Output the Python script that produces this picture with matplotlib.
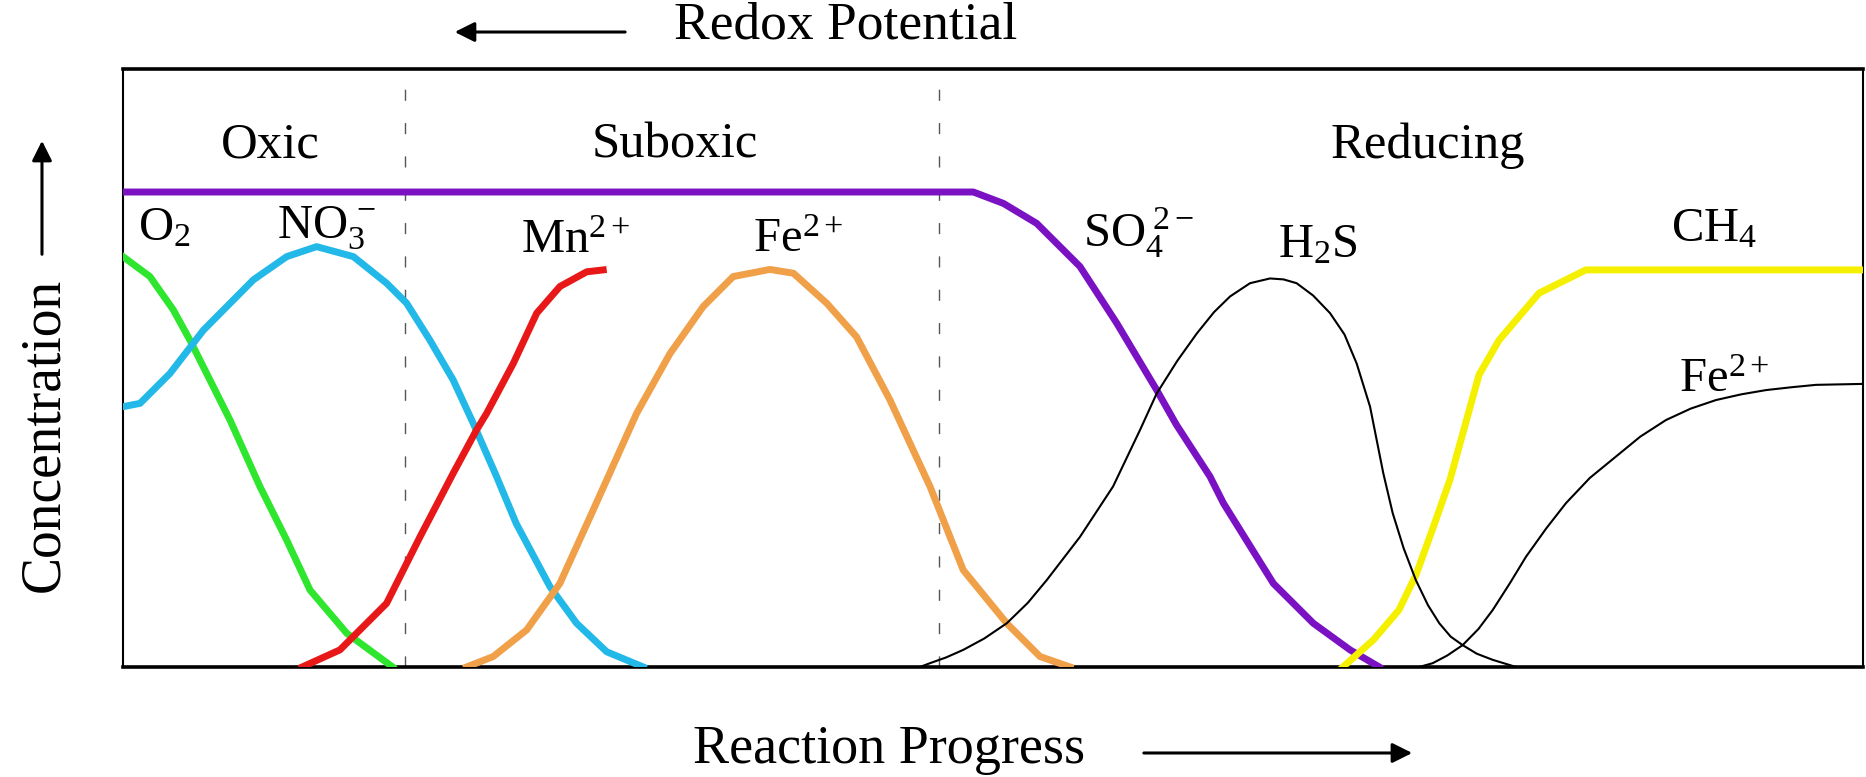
import matplotlib
matplotlib.use("Agg")
import matplotlib.pyplot as plt

plt.rcParams['font.family'] = ['Liberation Serif', 'DejaVu Serif']
plt.rcParams['mathtext.fontset'] = 'custom'
plt.rcParams['mathtext.rm'] = 'Liberation Serif'
plt.rcParams['mathtext.it'] = 'Liberation Serif:italic'
plt.rcParams['mathtext.bf'] = 'Liberation Serif:bold'

# ---- data (x: reaction progress 0-100, y: relative concentration) ----
o2_x = [0, 1.55, 2.89, 3.85, 5.0, 6.15, 7.87, 9.41, 10.75, 12.86, 15.5]
o2_y = [0.864, 0.822, 0.752, 0.688, 0.604, 0.520, 0.380, 0.267, 0.162, 0.071, 0.0]

no3_x = [0, 0.98, 2.70, 4.62, 7.49, 9.41, 11.13, 13.24, 15.15, 16.30, 17.64,
         18.98, 20.13, 21.47, 22.6, 24.54, 26.07, 27.8, 29.9]
no3_y = [0.548, 0.555, 0.618, 0.709, 0.815, 0.864, 0.885, 0.864, 0.808, 0.766, 0.688,
         0.604, 0.513, 0.401, 0.302, 0.169, 0.092, 0.032, 0.0]

mn_x = [10.3, 12.47, 15.15, 17.07, 18.98, 20.32, 20.9, 22.43, 23.78, 25.11, 26.65, 27.6]
mn_y = [0.0, 0.036, 0.134, 0.274, 0.408, 0.499, 0.534, 0.639, 0.745, 0.801, 0.832, 0.836]

fe_x = [19.75, 21.28, 23.2, 25.11, 27.03, 29.52, 31.44, 33.35, 35.07, 37.18, 38.53,
        40.44, 42.16, 44.08, 46.38, 48.29, 50.79, 52.7, 54.43]
fe_y = [0.0, 0.022, 0.078, 0.176, 0.331, 0.534, 0.660, 0.759, 0.822, 0.837, 0.829,
        0.766, 0.695, 0.562, 0.380, 0.204, 0.092, 0.022, 0.0]

so4_x = [0, 48.87, 50.6, 52.51, 55.0, 57.11, 59.41, 60.54, 62.47, 63.24, 66.11,
         68.41, 70.52, 72.2]
so4_y = [1.0, 1.0, 0.976, 0.934, 0.843, 0.724, 0.583, 0.51, 0.401, 0.345, 0.176,
         0.092, 0.036, 0.0]

h2s_x = [45.8, 46.38, 47.3, 48.29, 49.5, 50.79, 52.0, 53.09, 55.0, 56.9, 58.45, 59.41,
         60.6, 61.71, 62.7, 63.62, 64.77, 65.92, 66.7, 67.45, 68.4, 69.37, 70.2, 70.9,
         71.67, 72.43, 72.97, 73.6, 74.3, 75.0, 75.65, 76.3, 76.99, 77.8, 78.72, 80.06]
h2s_y = [0.0, 0.008, 0.02, 0.036, 0.06, 0.092, 0.135, 0.183, 0.274, 0.380, 0.499, 0.576,
         0.645, 0.702, 0.747, 0.780, 0.808, 0.818, 0.816, 0.808, 0.782, 0.745, 0.70, 0.639,
         0.548, 0.408, 0.324, 0.25, 0.183, 0.13, 0.092, 0.064, 0.046, 0.028, 0.015, 0.0]

ch4_x = [70.11, 71.86, 73.33, 74.31, 75.29, 76.26, 77.13, 77.93, 79.08, 81.38, 84.07, 100]
ch4_y = [0.0, 0.057, 0.120, 0.194, 0.293, 0.394, 0.509, 0.615, 0.688, 0.787, 0.836, 0.836]

fe2_x = [74.5, 75.27, 76.1, 76.99, 77.9, 78.72, 79.7, 80.63, 81.8, 82.93, 84.3, 85.8,
         87.2, 88.68, 90.1, 91.55, 93.0, 94.43, 95.9, 97.3, 100]
fe2_y = [0.0, 0.008, 0.024, 0.046, 0.080, 0.120, 0.176, 0.232, 0.292, 0.345, 0.398, 0.443,
         0.485, 0.520, 0.544, 0.562, 0.574, 0.583, 0.589, 0.594, 0.596]

zone_bounds = [16.2, 46.9]
zone_names = ['Oxic', 'Suboxic', 'Reducing']
zone_label_x = [8.45, 31.7, 75.0]

species_labels = [r'$\mathrm{O}_2$', r'$\mathrm{NO}_3^{\,-}$', r'$\mathrm{Mn}^{2+}$',
                  r'$\mathrm{Fe}^{2+}$', r'$\mathrm{SO}_4^{\;2-}$', r'$\mathrm{H}_2\mathrm{S}$',
                  r'$\mathrm{CH}_4$', r'$\mathrm{Fe}^{2+}$']
species_x = [0.86, 8.85, 22.9, 36.2, 55.2, 66.4, 88.97, 89.4]
species_y = [0.899, 0.903, 0.872, 0.874, 0.884, 0.863, 0.895, 0.579]

# ---- figure ----
fig = plt.figure(figsize=(18.66, 7.77), dpi=100)
ax = fig.add_axes([0.0659, 0.1416, 0.9325, 0.7696])
ax.set_xlim(0, 100)
ax.set_ylim(0, 1.259)
ax.set_xticks([])
ax.set_yticks([])
ax.spines['top'].set_linewidth(2.6)
ax.spines['bottom'].set_linewidth(2.6)
ax.spines['left'].set_linewidth(1.5)
ax.spines['right'].set_linewidth(1.5)

for xb in zone_bounds:
    ax.axvline(xb, color='#555555', lw=1.0, linestyle=(0, (8, 16)), zorder=1)

lw_c = 5.0
ax.plot(o2_x, o2_y, color='#2ee62e', lw=lw_c, solid_joinstyle='round', zorder=3)
ax.plot(no3_x, no3_y, color='#22b8e8', lw=lw_c, solid_joinstyle='round', zorder=3)
ax.plot(mn_x, mn_y, color='#e81818', lw=lw_c, solid_joinstyle='round', zorder=3)
ax.plot(fe_x, fe_y, color='#f0a048', lw=lw_c, solid_joinstyle='round', zorder=3)
ax.plot(so4_x, so4_y, color='#7a12c4', lw=lw_c, solid_joinstyle='round', zorder=3)
ax.plot(h2s_x, h2s_y, color='black', lw=1.5, zorder=4)
ax.plot(ch4_x, ch4_y, color='#f5f000', lw=lw_c, solid_joinstyle='round', zorder=3)
ax.plot(fe2_x, fe2_y, color='black', lw=1.5, zorder=4)

for name, xx in zip(zone_names, zone_label_x):
    ax.text(xx, 1.072, name, ha='center', va='baseline', fontsize=36.5)

for lab, xx, yy in zip(species_labels, species_x, species_y):
    ax.text(xx, yy, lab, ha='left', va='baseline', fontsize=35)

# axis labels as figure text
fig.text(0.3612, 0.951, 'Redox Potential', ha='left', va='baseline', fontsize=38.5)
fig.text(0.3714, 0.018, 'Reaction Progress', ha='left', va='baseline', fontsize=39)
fig.text(0.0236, 0.44, 'Concentration', ha='center', va='center', rotation=90, fontsize=40)

arrow_kw = dict(arrowstyle='-|>', color='black', lw=2.2, mutation_scale=30)
ax.annotate('', xy=(0.2422, 0.9588), xytext=(0.3365, 0.9588), xycoords='figure fraction',
            textcoords='figure fraction', arrowprops=arrow_kw, annotation_clip=False)
ax.annotate('', xy=(0.7583, 0.0309), xytext=(0.6115, 0.0309), xycoords='figure fraction',
            textcoords='figure fraction', arrowprops=arrow_kw, annotation_clip=False)
ax.annotate('', xy=(0.0225, 0.8224), xytext=(0.0225, 0.6692), xycoords='figure fraction',
            textcoords='figure fraction', arrowprops=arrow_kw, annotation_clip=False)

fig.savefig('out.png', dpi=100)
